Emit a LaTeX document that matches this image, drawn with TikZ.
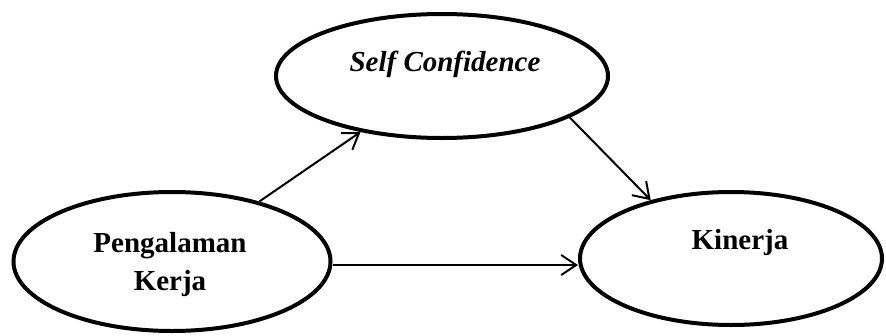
\documentclass[tikz,border=0pt]{standalone}
\usepackage{fontspec}
\setmainfont{Liberation Serif}
\usetikzlibrary{shapes.geometric, arrows.meta, calc}

\tikzset{
    varbox/.style={ellipse, draw, line width=4pt, inner sep=0pt},
    arr/.style={-{Straight Barb[length=15pt,width=20pt,line width=2pt]}, line width=2pt},
    lbl/.style={font=\fontsize{29}{38}\selectfont\bfseries, align=center}
}

\begin{document}
\begin{tikzpicture}[x=1pt, y=-1pt]
    \useasboundingbox (0,0) rectangle (886,335);

    % Variabel
    \node[varbox, minimum width=332pt, minimum height=124pt] (self) at (442,76) {};
    \node[varbox, minimum width=317pt, minimum height=139pt] (peng) at (172,261.5) {};
    \node[varbox, minimum width=302pt, minimum height=133pt] (kin) at (731,258.5) {};

    % Teks
    \node[lbl, font=\fontsize{29}{38}\selectfont\bfseries\itshape] (selftxt) at (445,64) {Self Confidence};
    \node[lbl] (pengtxt) at (170,265) {Pengalaman\\Kerja};
    \node[lbl] (kintxt) at (740,243) {Kinerja};

    % Panah
    \draw[arr] (peng) -- (self);
    \draw[arr] (self.-18) -- (kin.144);
    \draw[arr] (peng.east |- 0,265) -- (kin.west |- 0,265);
\end{tikzpicture}
\end{document}
